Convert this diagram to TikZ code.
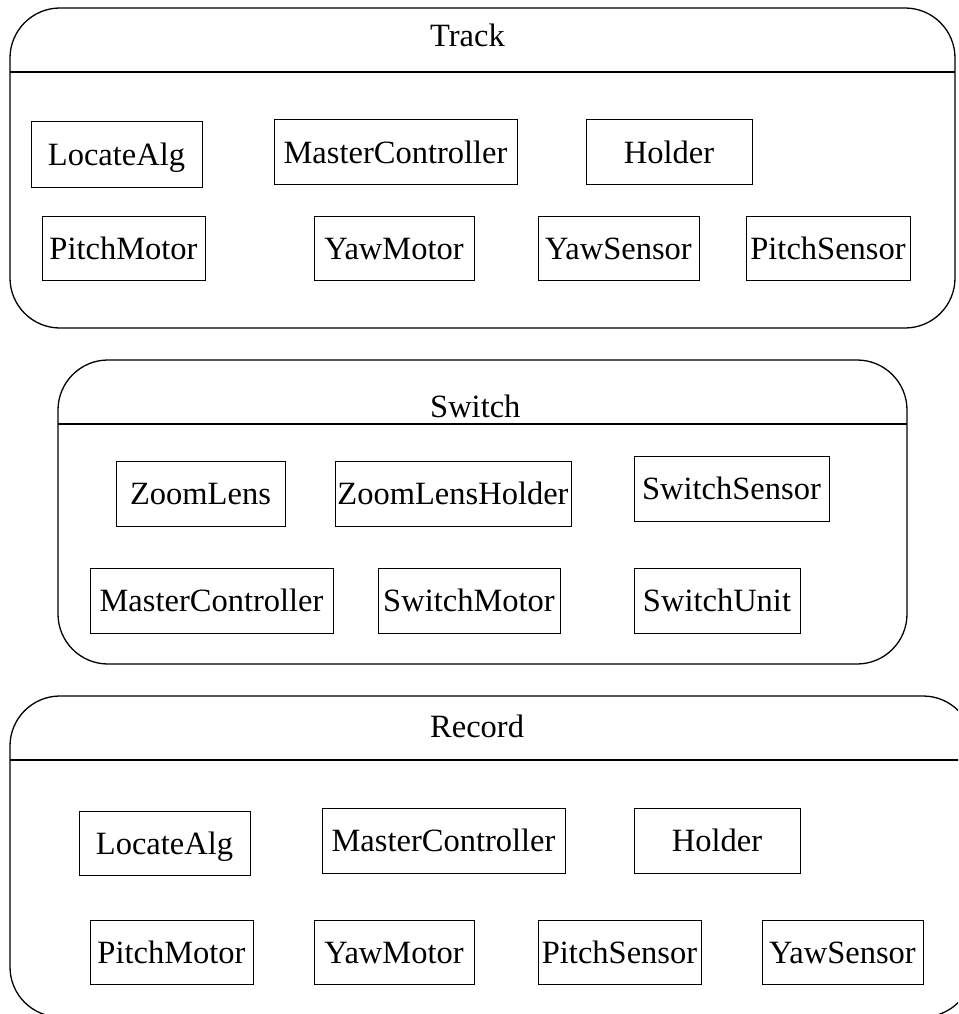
\documentclass[tikz,border=0pt]{standalone}
\usepackage{fontspec}
\setmainfont{Liberation Serif}
\begin{document}
\begin{tikzpicture}[x=1pt,y=-1pt,
  container/.style={draw=black,line width=1.3pt,rounded corners=50pt},
  divider/.style={draw=black,line width=1.3pt},
  comp/.style={draw=black,line width=1pt,rectangle,inner sep=0pt,
    text height=22pt,text depth=0pt,font=\fontsize{32.5}{37}\selectfont},
  title/.style={anchor=base west,inner sep=0pt,font=\fontsize{32.5}{37}\selectfont}]
\useasboundingbox (0,0) rectangle (958,1014);
\clip (0,0) rectangle (958,1014);

% Track package
\draw[container] (10,8) rectangle (955,328);
\draw[divider] (10,72) -- (955,72);
\node[title] (trackTitle) at (430,47) {Track};
\node[comp,minimum width=171pt,minimum height=65pt] (tLocate) at (116.5,154.5) {LocateAlg};
\node[comp,minimum width=243pt,minimum height=64pt] (tMaster) at (395.5,152) {MasterController};
\node[comp,minimum width=166pt,minimum height=64pt] (tHolder) at (669,152) {Holder};
\node[comp,minimum width=163pt,minimum height=64pt] (tPitchMotor) at (123.5,248) {PitchMotor};
\node[comp,minimum width=160pt,minimum height=64pt] (tYawMotor) at (394,248) {YawMotor};
\node[comp,minimum width=161pt,minimum height=64pt] (tYawSensor) at (618.5,248) {YawSensor};
\node[comp,minimum width=164pt,minimum height=64pt] (tPitchSensor) at (828,248) {PitchSensor};

% Switch package
\draw[container] (58,360) rectangle (907,664);
\draw[divider] (58,424) -- (907,424);
\node[title] (switchTitle) at (430,417) {Switch};
\node[comp,minimum width=169pt,minimum height=65pt] (sZoomLens) at (200.5,493.5) {ZoomLens};
\node[comp,minimum width=236pt,minimum height=65pt] (sZoomHolder) at (453,493.5) {ZoomLensHolder};
\node[comp,minimum width=195pt,minimum height=65pt] (sSensor) at (731.5,488.5) {SwitchSensor};
\node[comp,minimum width=243pt,minimum height=65pt] (sMaster) at (211.5,600.5) {MasterController};
\node[comp,minimum width=182pt,minimum height=65pt] (sMotor) at (469,600.5) {SwitchMotor};
\node[comp,minimum width=166pt,minimum height=65pt] (sUnit) at (717,600.5) {SwitchUnit};

% Record package
\draw[container] (10,696) rectangle (973,1017);
\draw[divider] (10,760) -- (973,760);
\node[title] (recordTitle) at (430,737) {Record};
\node[comp,minimum width=171pt,minimum height=64pt] (rLocate) at (164.5,843) {LocateAlg};
\node[comp,minimum width=243pt,minimum height=65pt] (rMaster) at (443.5,840.5) {MasterController};
\node[comp,minimum width=166pt,minimum height=65pt] (rHolder) at (717,840.5) {Holder};
\node[comp,minimum width=163pt,minimum height=64pt] (rPitchMotor) at (171.5,952) {PitchMotor};
\node[comp,minimum width=160pt,minimum height=64pt] (rYawMotor) at (394,952) {YawMotor};
\node[comp,minimum width=163pt,minimum height=64pt] (rPitchSensor) at (619.5,952) {PitchSensor};
\node[comp,minimum width=161pt,minimum height=64pt] (rYawSensor) at (842.5,952) {YawSensor};
\end{tikzpicture}
\end{document}
